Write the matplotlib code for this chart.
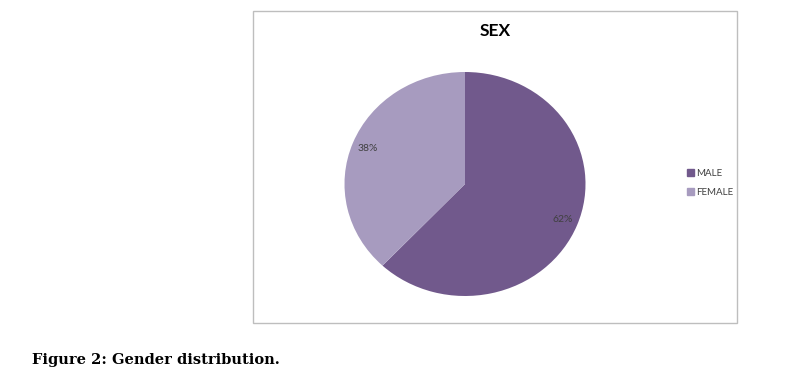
import matplotlib.pyplot as plt
import matplotlib.patches as mpatches

# donnees du graphique
categories = ["MALE", "FEMALE"]
valeurs = [62, 38]
couleurs = ["#71598C", "#A79BBF"]

fig = plt.figure(figsize=(7.92, 3.78), dpi=100)
fig.patch.set_facecolor("white")

# cadre du graphique
cadre = mpatches.Rectangle((253/792, 1 - 323/378), 484/792, 312/378,
                           transform=fig.transFigure, fill=False,
                           edgecolor="#BEBEBE", linewidth=1.0)
fig.patches.append(cadre)

ax = fig.add_axes([344.5/792, 82/378, 241/792, 224/378])
parts, textes, pcts = ax.pie(valeurs, colors=couleurs, startangle=90,
                             counterclock=False, autopct="%1.0f%%",
                             pctdistance=0.87,
                             textprops={"fontsize": 7.5, "color": "#404040",
                                        "family": "Lato"})
ax.set_aspect("auto")
ax.set_xlim(-1, 1)
ax.set_ylim(-1, 1)
ax.axis("off")

fig.text(495/792, 1 - 31/378, "SEX", ha="center", va="center",
         fontsize=12.5, fontweight="bold", family="Lato")

poignees = [mpatches.Patch(color=c, label=l) for c, l in zip(couleurs, categories)]
fig.legend(handles=poignees, loc="center left",
           bbox_to_anchor=(678/792, 1 - 183/378), frameon=False,
           prop={"family": "Lato", "size": 7}, handlelength=0.7,
           handleheight=0.7, handletextpad=0.3, labelspacing=1.0,
           labelcolor="#404040")

fig.text(32/792, 1 - 360/378, "Figure 2: Gender distribution.", ha="left",
         va="center", fontsize=10.5, fontweight="bold", family="DejaVu Serif")

plt.savefig("out.png", dpi=100)
